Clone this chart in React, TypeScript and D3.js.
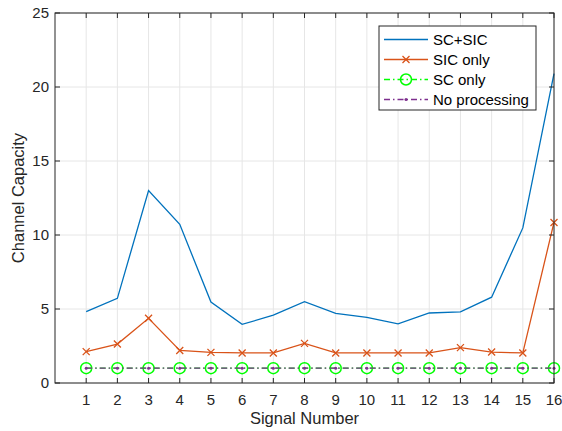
import React from "react";
import * as d3 from "d3";

const signals = [1, 2, 3, 4, 5, 6, 7, 8, 9, 10, 11, 12, 13, 14, 15, 16];
const scSic = [4.82, 5.72, 13.0, 10.72, 5.47, 3.96, 4.58, 5.49, 4.71, 4.44, 3.99, 4.73, 4.8, 5.8, 10.48, 20.9];
const sicOnly = [2.12, 2.63, 4.37, 2.2, 2.07, 2.03, 2.03, 2.68, 2.03, 2.03, 2.03, 2.03, 2.39, 2.09, 2.03, 10.85];
const scOnly = [1, 1, 1, 1, 1, 1, 1, 1, 1, 1, 1, 1, 1, 1, 1, 1];
const noProc = [1, 1, 1, 1, 1, 1, 1, 1, 1, 1, 1, 1, 1, 1, 1, 1];
const yTicks = [0, 5, 10, 15, 20, 25];
const seriesNames = ["SC+SIC", "SIC only", "SC only", "No processing"];

const W = 562, H = 431;
const L = 55, R = 554, T = 13, B = 383;
const FONT = "'Liberation Sans', Arial, sans-serif";

export default function App() {
  const x = d3.scaleLinear().domain([0, 16]).range([L, R]);
  const y = d3.scaleLinear().domain([0, 25]).range([B, T]);
  const line = d3.line<number>().x((_, i) => x(signals[i])).y((d) => y(d));

  const blue = "#0072BD", orange = "#D95319", green = "#00FF00", purple = "#7E2F8E";
  const axisCol = "#262626";

  const cross = (cx: number, cy: number, k: string) => (
    <path key={k} d={`M${cx - 3.5},${cy - 3.5}L${cx + 3.5},${cy + 3.5}M${cx - 3.5},${cy + 3.5}L${cx + 3.5},${cy - 3.5}`} stroke={orange} strokeWidth={1.3} />
  );

  const lgX = 379, lgY = 26, lgW = 157, lgH = 84;
  const rows = [39.5, 59.5, 79.5, 99.5];

  return (
    <svg width={W} height={H} style={{ position: "absolute", left: 0, top: 0, background: "#fff" }}>
      <rect x={0} y={0} width={W} height={H} fill="#fff" />
      {signals.map((s) => (
        <line key={"gx" + s} x1={x(s)} x2={x(s)} y1={T} y2={B} stroke="#e6e6e6" strokeWidth={1} />
      ))}
      {yTicks.map((t) => (
        <line key={"gy" + t} x1={L} x2={R} y1={y(t)} y2={y(t)} stroke="#e6e6e6" strokeWidth={1} />
      ))}
      <path d={line(scSic) || ""} fill="none" stroke={blue} strokeWidth={1.3} />
      <path d={line(sicOnly) || ""} fill="none" stroke={orange} strokeWidth={1.3} />
      {sicOnly.map((v, i) => cross(x(signals[i]), y(v), "c" + i))}
      <path d={line(scOnly) || ""} fill="none" stroke={green} strokeWidth={1.3} strokeDasharray="6,3,1.5,3" />
      {scOnly.map((v, i) => (
        <circle key={"o" + i} cx={x(signals[i])} cy={y(v)} r={5.5} fill="none" stroke={green} strokeWidth={1.5} />
      ))}
      <path d={line(noProc) || ""} fill="none" stroke={purple} strokeWidth={1.3} strokeDasharray="6,3,1.5,3" />
      {noProc.map((v, i) => (
        <circle key={"p" + i} cx={x(signals[i])} cy={y(v)} r={1.5} fill={purple} />
      ))}
      <rect x={L} y={T} width={R - L} height={B - T} fill="none" stroke={axisCol} strokeWidth={1} />
      {signals.map((s) => (
        <g key={"tx" + s}>
          <line x1={x(s)} x2={x(s)} y1={B} y2={B - 5} stroke={axisCol} />
          <line x1={x(s)} x2={x(s)} y1={T} y2={T + 5} stroke={axisCol} />
          <text x={x(s)} y={B + 22} textAnchor="middle" fontFamily={FONT} fontSize={15} fill={axisCol}>{s}</text>
        </g>
      ))}
      {yTicks.map((t) => (
        <g key={"ty" + t}>
          <line x1={L} x2={L + 5} y1={y(t)} y2={y(t)} stroke={axisCol} />
          <line x1={R} x2={R - 5} y1={y(t)} y2={y(t)} stroke={axisCol} />
          <text x={L - 6} y={y(t) + 5} textAnchor="end" fontFamily={FONT} fontSize={15} fill={axisCol}>{t}</text>
        </g>
      ))}
      <text x={(L + R) / 2} y={424} textAnchor="middle" fontFamily={FONT} fontSize={16.5} fill={axisCol}>Signal Number</text>
      <text transform={`translate(24,${(T + B) / 2}) rotate(-90)`} textAnchor="middle" fontFamily={FONT} fontSize={16.5} fill={axisCol}>Channel Capacity</text>
      <rect x={lgX} y={lgY} width={lgW} height={lgH} fill="#fff" stroke={axisCol} strokeWidth={1} />
      {seriesNames.map((n, i) => {
        const ry = rows[i];
        const x1 = 384, x2 = 428, mx = (x1 + x2) / 2;
        const col = [blue, orange, green, purple][i];
        return (
          <g key={"lg" + i}>
            <line x1={x1} x2={x2} y1={ry} y2={ry} stroke={col} strokeWidth={1.3} strokeDasharray={i >= 2 ? "6,3,1.5,3" : undefined} />
            {i === 1 && cross(mx, ry, "lgc")}
            {i === 2 && <circle cx={mx} cy={ry} r={5.5} fill="none" stroke={green} strokeWidth={1.5} />}
            {i === 3 && <circle cx={mx} cy={ry} r={1.5} fill={purple} />}
            <text x={433} y={ry + 5.5} fontFamily={FONT} fontSize={15} fill="#000">{n}</text>
          </g>
        );
      })}
    </svg>
  );
}
